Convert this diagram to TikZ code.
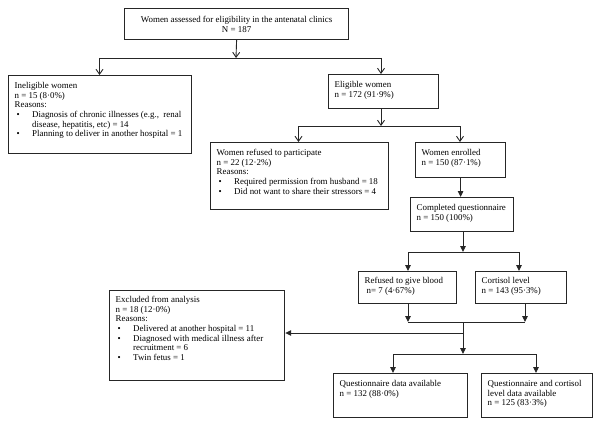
\documentclass[tikz,border=0pt]{standalone}
\usepackage{fontspec}
\setmainfont{Liberation Serif}
\usetikzlibrary{arrows.meta}
\newcommand\bul{\makebox[17.5pt][l]{\hspace{2pt}\textbullet}}
\newcommand\ind{\hspace*{17.5pt}}
\begin{document}
\begin{tikzpicture}[x=1pt,y=-1pt,
  box/.style={draw=black!85, line width=1.2pt, inner sep=0pt, anchor=north west},
  txt/.style={inner sep=0pt, anchor=north west, align=left, font=\fontsize{8.9}{9.7}\selectfont},
  ln/.style={draw=black!85, line width=0.9pt},
  openarr/.style={ln, -{Straight Barb[length=5pt, width=7pt, line width=0.9pt]}},
  solidarr/.style={ln, -{Triangle[length=6pt, width=5.5pt]}}
]
\useasboundingbox (0,0) rectangle (600,428);
% boxes
\node[box, minimum width=224pt, minimum height=31pt] (top) at (124,8) {};
\node[box, minimum width=183pt, minimum height=78pt] (inel) at (8,75) {};
\node[box, minimum width=110pt, minimum height=34pt] (elig) at (328,74) {};
\node[box, minimum width=178pt, minimum height=67pt] (refu) at (210,142) {};
\node[box, minimum width=90pt, minimum height=35pt] (enro) at (415,142) {};
\node[box, minimum width=103pt, minimum height=34pt] (comp) at (410,197) {};
\node[box, minimum width=98pt, minimum height=32pt] (blood) at (358,271) {};
\node[box, minimum width=91pt, minimum height=32pt] (cort) at (475,271) {};
\node[box, minimum width=175pt, minimum height=90pt] (excl) at (109,290) {};
\node[box, minimum width=134pt, minimum height=44pt] (qdat) at (333,373) {};
\node[box, minimum width=111pt, minimum height=44pt] (qcor) at (481,373) {};
% texts
\node[txt, anchor=center, align=center] (topT) at (top.center) {Women assessed for eligibility in the antenatal clinics\\N = 187};
\node[txt] (inelT) at ([shift={(6.5,7)}]inel.north west) {Ineligible women\\n = 15 (8·0\%)\\Reasons:\\\bul Diagnosis of chronic illnesses (e.g.,~ renal\\\ind disease, hepatitis, etc) = 14\\\bul Planning to deliver in another hospital = 1};
\node[txt] (eligT) at ([shift={(6.5,7)}]elig.north west) {Eligible women\\n = 172 (91·9\%)};
\node[txt] (refuT) at ([shift={(6.5,7)}]refu.north west) {Women refused to participate\\n = 22 (12·2\%)\\Reasons:\\\bul Required permission from husband = 18\\\bul Did not want to share their stressors = 4};
\node[txt] (enroT) at ([shift={(6.5,7)}]enro.north west) {Women enrolled\\n = 150 (87·1\%)};
\node[txt] (compT) at ([shift={(6.5,7)}]comp.north west) {Completed questionnaire\\n = 150 (100\%)};
\node[txt] (bloodT) at ([shift={(6.5,6)}]blood.north west) {Refused to give blood\\\hspace*{2pt}n= 7 (4·67\%)};
\node[txt] (cortT) at ([shift={(6.5,6)}]cort.north west) {Cortisol level\\n = 143 (95·3\%)};
\node[txt] (exclT) at ([shift={(6.5,6)}]excl.north west) {Excluded from analysis\\n = 18 (12·0\%)\\Reasons:\\\bul Delivered at another hospital = 11\\\bul Diagnosed with medical illness after\\\ind recruitment = 6\\\bul Twin fetus = 1};
\node[txt] (qdatT) at ([shift={(6.5,7)}]qdat.north west) {Questionnaire data available\\n = 132 (88·0\%)};
\node[txt] (qcorT) at ([shift={(6.5,7)}]qcor.north west) {Questionnaire and cortisol\\level data available\\n = 125 (83·3\%)};
% junction coordinates
\coordinate (j1) at (236,58);
\coordinate (j1l) at (99.5,58);
\coordinate (j1r) at (381,58);
\coordinate (j2) at (381,126);
\coordinate (j2l) at (298.5,126);
\coordinate (j2r) at (460,126);
\coordinate (j3) at (463,252);
\coordinate (j3l) at (408,252);
\coordinate (j3r) at (519,252);
\coordinate (j4) at (463,322);
\coordinate (j4l) at (408,322);
\coordinate (j4r) at (525,322);
\coordinate (j5) at (463,333);
\coordinate (j6) at (463,354);
\coordinate (j6l) at (393,354);
\coordinate (j6r) at (536,354);
% connectors
\draw[openarr] (top.south) -- (j1);
\draw[ln] (j1l) -- (j1r);
\draw[openarr] (j1l) -- (j1l |- inel.north);
\draw[openarr] (j1r) -- (j1r |- elig.north);
\draw[openarr] (j2 |- elig.south) -- (j2);
\draw[ln] (j2l) -- (j2r);
\draw[openarr] (j2l) -- (j2l |- refu.north);
\draw[openarr] (j2r) -- (j2r |- enro.north);
\draw[solidarr] (enro.south) -- (enro.south |- comp.north);
\draw[solidarr] (j3 |- comp.south) -- (j3);
\draw[ln] (j3l) -- (j3r);
\draw[solidarr] (j3l) -- (j3l |- blood.north);
\draw[solidarr] (j3r) -- (j3r |- cort.north);
\draw[solidarr] (j4l |- blood.south) -- (j4l);
\draw[solidarr] (j4r |- cort.south) -- (j4r);
\draw[ln] (j4l) -- (j4r);
\draw[solidarr] (j4) -- (j6);
\draw[solidarr] (j5) -- (j5 -| excl.east);
\draw[ln] (j6l) -- (j6r);
\draw[solidarr] (j6l) -- (j6l |- qdat.north);
\draw[solidarr] (j6r) -- (j6r |- qcor.north);
\end{tikzpicture}
\end{document}
